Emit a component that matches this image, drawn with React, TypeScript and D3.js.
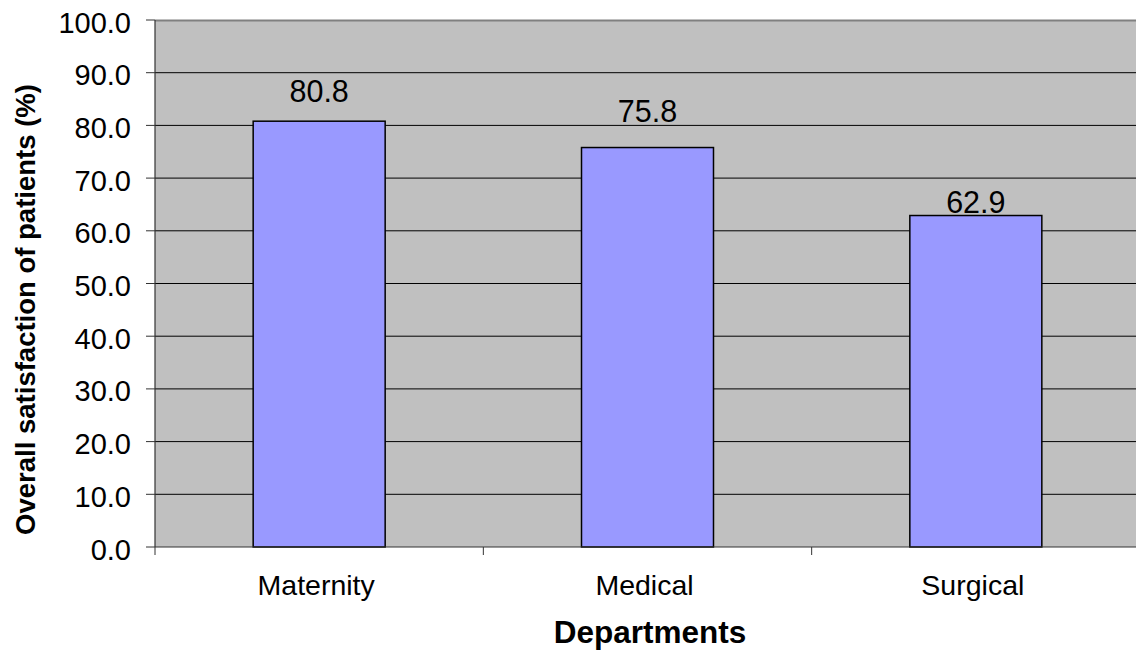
import React from "react";
import * as d3 from "d3";

const categories = ["Maternity", "Medical", "Surgical"];
const values = [80.8, 75.8, 62.9];
const labelOffsets = [19, 26, 3];
const yTicks = [0, 10, 20, 30, 40, 50, 60, 70, 80, 90, 100];

const W = 1136;
const H = 651;
const M = { left: 155, top: 20, right: 1140, bottom: 547 };

export default function App() {
  const x = d3.scaleBand<string>().domain(categories).range([M.left, M.right]).paddingInner(0).paddingOuter(0);
  const y = d3.scaleLinear().domain([0, 100]).range([M.bottom, M.top]);
  const bw = x.bandwidth() * 0.402;
  const font = "'Liberation Sans', Arial, sans-serif";
  const boundaries = categories.map((c) => x(c)!).concat([M.right]);
  return (
    <div style={{ position: "fixed", left: 0, top: 0, width: W, height: H, background: "#fff" }}>
      <svg width={W} height={H} style={{ display: "block" }} fontFamily={font}>
        <rect x={M.left} y={M.top} width={M.right - M.left} height={M.bottom - M.top} fill="#C0C0C0" />
        <line x1={M.left} x2={M.right} y1={M.top + 0.5} y2={M.top + 0.5} stroke="#808080" strokeWidth={2} />
        {yTicks.filter((t) => t !== 0 && t !== 100).map((t) => (
          <line key={t} x1={M.left} x2={M.right} y1={y(t)} y2={y(t)} stroke="#000" strokeWidth={1} />
        ))}
        {categories.map((c, i) => {
          const cx = x(c)! + x.bandwidth() / 2;
          return (
            <rect key={c} x={cx - bw / 2} y={y(values[i])} width={bw} height={y(0) - y(values[i])}
              fill="#9999FF" stroke="#000" strokeWidth={1.5} />
          );
        })}
        <line x1={M.left} x2={M.left} y1={M.top} y2={M.bottom} stroke="#333" strokeWidth={1.2} />
        <line x1={M.left} x2={M.right} y1={M.bottom} y2={M.bottom} stroke="#333" strokeWidth={1.2} />
        {yTicks.map((t) => (
          <g key={t}>
            <line x1={M.left - 9} x2={M.left} y1={y(t)} y2={y(t)} stroke="#333" strokeWidth={1} />
            <text x={131} y={y(t) + 12.5} textAnchor="end" fontSize={29} fill="#000">{t.toFixed(1)}</text>
          </g>
        ))}
        {boundaries.map((b, i) => (
          <line key={i} x1={b} x2={b} y1={M.bottom} y2={M.bottom + 8} stroke="#333" strokeWidth={1} />
        ))}
        {categories.map((c, i) => {
          const cx = x(c)! + x.bandwidth() / 2;
          return (
            <g key={c}>
              <text x={cx - 3} y={595} textAnchor="middle" fontSize={28.5} fill="#000">{c}</text>
              <text x={cx} y={y(values[i]) - labelOffsets[i]} textAnchor="middle" fontSize={30.5} fill="#000">
                {values[i].toFixed(1)}
              </text>
            </g>
          );
        })}
        <text x={650} y={643} textAnchor="middle" fontSize={31.5} fontWeight="bold" fill="#000">Departments</text>
        <text transform={`translate(35, ${(M.top + M.bottom) / 2 + 26}) rotate(-90)`} textAnchor="middle"
          fontSize={27.5} fontWeight="bold" fill="#000">Overall satisfaction of patients (%)</text>
      </svg>
    </div>
  );
}
